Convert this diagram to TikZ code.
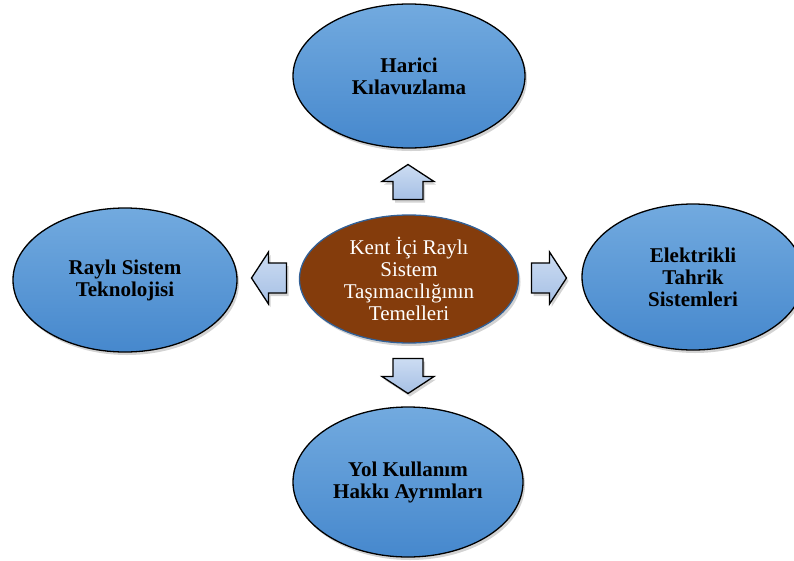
\documentclass[tikz,border=0pt]{standalone}
\usepackage{fontspec}
\setmainfont{Liberation Serif}
\usetikzlibrary{shapes.geometric,shadows}
\definecolor{bluetop}{RGB}{114,170,223}
\definecolor{bluebot}{RGB}{70,136,205}
\definecolor{brownfill}{RGB}{132,60,12}
\definecolor{brownline}{RGB}{50,96,150}
\definecolor{arrtop}{RGB}{204,220,242}
\definecolor{arrbot}{RGB}{166,192,229}
\tikzset{
  topic/.style={ellipse, draw=black, line width=1.3pt, inner sep=0pt,
    top color=bluetop, bottom color=bluebot, align=center,
    font=\fontsize{21}{22}\selectfont\bfseries,
    drop shadow={opacity=0.35, shadow xshift=2pt, shadow yshift=-3pt}},
  core/.style={ellipse, draw=brownline, line width=1.3pt, inner sep=0pt,
    fill=brownfill, text=white, align=center,
    font=\fontsize{21}{22}\selectfont,
    drop shadow={opacity=0.35, shadow xshift=2pt, shadow yshift=-3pt}},
  blockarrow/.pic={
    \draw[black, line width=1.3pt, line join=miter, top color=arrtop, bottom color=arrbot,
      drop shadow={opacity=0.35, shadow xshift=2pt, shadow yshift=-3pt}]
      (-17.5,-15) -- (0.5,-15) -- (0.5,-26) -- (17.5,0) -- (0.5,26) -- (0.5,15) -- (-17.5,15) -- cycle;
  }
}
\begin{document}
\begin{tikzpicture}[x=1pt,y=-1pt]
\useasboundingbox (0,0) rectangle (794,560);
\clip (0,0) rectangle (794,560);
\node[core, minimum width=219pt, minimum height=128pt] (c) at (409,279)
  {Kent İçi Raylı\\Sistem\\Taşımacılığının\\Temelleri};
\node[topic, minimum width=232pt, minimum height=144pt] (t) at (409,76)
  {Harici\\Kılavuzlama};
\node[topic, minimum width=224pt, minimum height=144pt] (l) at (125,280)
  {Raylı Sistem\\Teknolojisi};
\node[topic, minimum width=222pt, minimum height=146pt] (r) at (693,277)
  {Elektrikli\\Tahrik\\Sistemleri};
\node[topic, minimum width=230pt, minimum height=150pt] (b) at (408,482)
  {Yol Kullanım\\Hakkı Ayrımları};
\coordinate (au) at (408,182);
\coordinate (ad) at (408,376);
\coordinate (al) at (269,278);
\coordinate (ar) at (549,278);
\pic[rotate=90] at (au) {blockarrow};
\pic[rotate=270] at (ad) {blockarrow};
\pic[rotate=180] at (al) {blockarrow};
\pic at (ar) {blockarrow};
\end{tikzpicture}
\end{document}
